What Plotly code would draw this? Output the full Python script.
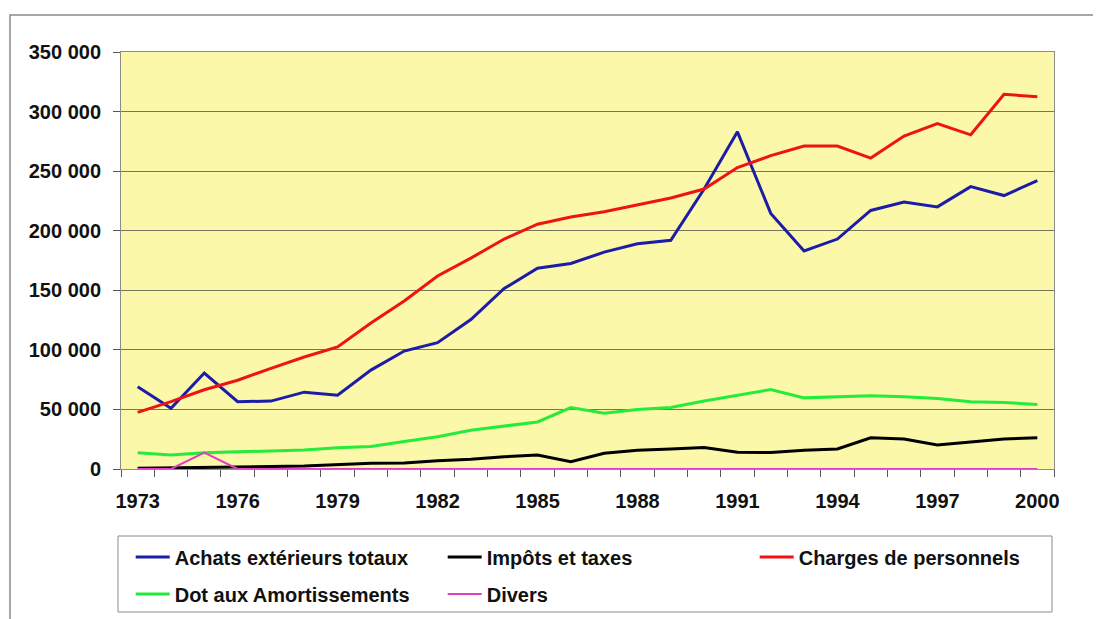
import plotly.graph_objects as go

years = [str(y) for y in range(1973, 2001)]
tick_labels = [y if (int(y) - 1973) % 3 == 0 else "" for y in years]

achats = [69000, 51000, 80500, 56500, 57000, 64500, 62000, 83000, 99000, 106000,
          125500, 151500, 168500, 172500, 182000, 189000, 192000, 235000, 283000, 214500,
          183000, 193000, 217000, 224000, 220000, 237000, 229500, 242000]
impots = [600, 800, 1400, 1500, 2000, 2500, 3800, 4800, 5000, 7000,
          8200, 10300, 11700, 6200, 13200, 15800, 16800, 18000, 14000, 13800,
          15800, 16800, 26200, 25200, 20200, 23000, 25200, 26200]
charges = [47500, 56500, 66500, 74500, 84500, 94000, 102500, 122500, 141000, 162000,
           177000, 193000, 205500, 211500, 216000, 221500, 227500, 235000, 253000, 263000,
           271000, 271000, 261000, 279500, 290000, 280500, 314500, 312500]
dot = [13700, 11800, 13700, 14500, 15300, 15900, 17900, 18800, 23000, 27000,
       32500, 36000, 39500, 51500, 46800, 50000, 51600, 57000, 62000, 66700,
       59700, 60600, 61400, 60600, 59200, 56400, 55800, 54200]
divers = [0, 0, 13800] + [0] * 25

series = [
    ("Achats extérieurs totaux", achats, "#1C1CA8", 3, "legend"),
    ("Impôts et taxes", impots, "#000000", 3, "legend"),
    ("Charges de personnels", charges, "#EE1414", 3, "legend"),
    ("Dot aux Amortissements", dot, "#25EC3A", 3, "legend2"),
    ("Divers", divers, "#E23CC4", 2, "legend2"),
]

fig = go.Figure()
for name, vals, color, w, leg in series:
    fig.add_trace(go.Scatter(x=years, y=vals, name=name, mode="lines",
                             line=dict(color=color, width=w), legend=leg))

OFF = 8  # page body margin
W, H = 1101 - OFF, 619 - OFF
L, R, T, B = 121 - OFF, 47, 52 - OFF, 150
pw, ph = W - L - R, H - T - B

def px_x(p):
    return (p - OFF - L) / pw

def px_y(p):
    return (H - B - (p - OFF)) / ph

font = dict(family="Liberation Sans, Arial", size=20, color="#111111", weight="bold")

legend_common = dict(orientation="h", xanchor="left", yanchor="middle",
                     bgcolor="rgba(0,0,0,0)", borderwidth=0, font=font,
                     itemwidth=34,
                     entrywidth=263, entrywidthmode="pixels", traceorder="normal")

fig.update_layout(
    width=W, height=H,
    margin=dict(l=L, r=R, t=T, b=B, autoexpand=False),
    paper_bgcolor="white",
    plot_bgcolor="#FBF8A9",
    separators=", ",
    font=font,
    showlegend=True,
    legend=dict(x=px_x(130.7), y=px_y(557), **legend_common),
    legend2=dict(x=px_x(130.7), y=px_y(594), **legend_common),
    xaxis=dict(
        type="category", tickmode="array", tickvals=years, ticktext=tick_labels,
        range=[-0.5, len(years) - 0.5],
        tickson="boundaries", ticks="outside", ticklen=7, tickcolor="#555555",
        tickangle=0,
        showgrid=False, showline=True, linecolor="#8C8C8C", linewidth=1, mirror=True,
        tickfont=font, ticklabelstandoff=14, zeroline=False,
    ),
    yaxis=dict(
        range=[0, 350000], dtick=50000, tickformat=",d",
        ticks="outside", ticklen=7, tickcolor="#555555",
        showgrid=True, gridcolor="#76765A", gridwidth=1,
        showline=True, linecolor="#8C8C8C", linewidth=1, mirror=True,
        tickfont=font, ticklabelstandoff=8, zeroline=False,
    ),
)

# outer chart frame
fig.add_shape(type="rect", xref="paper", yref="paper",
              x0=px_x(10), x1=px_x(1140), y0=px_y(700), y1=px_y(15),
              line=dict(color="#8A8A8A", width=1.5), fillcolor="rgba(0,0,0,0)", layer="below")
# legend frame
fig.add_shape(type="rect", xref="paper", yref="paper",
              x0=px_x(118), x1=px_x(1052), y0=px_y(612), y1=px_y(536),
              line=dict(color="#8A8A8A", width=1), fillcolor="white", layer="above")

fig.write_html("out.html")
